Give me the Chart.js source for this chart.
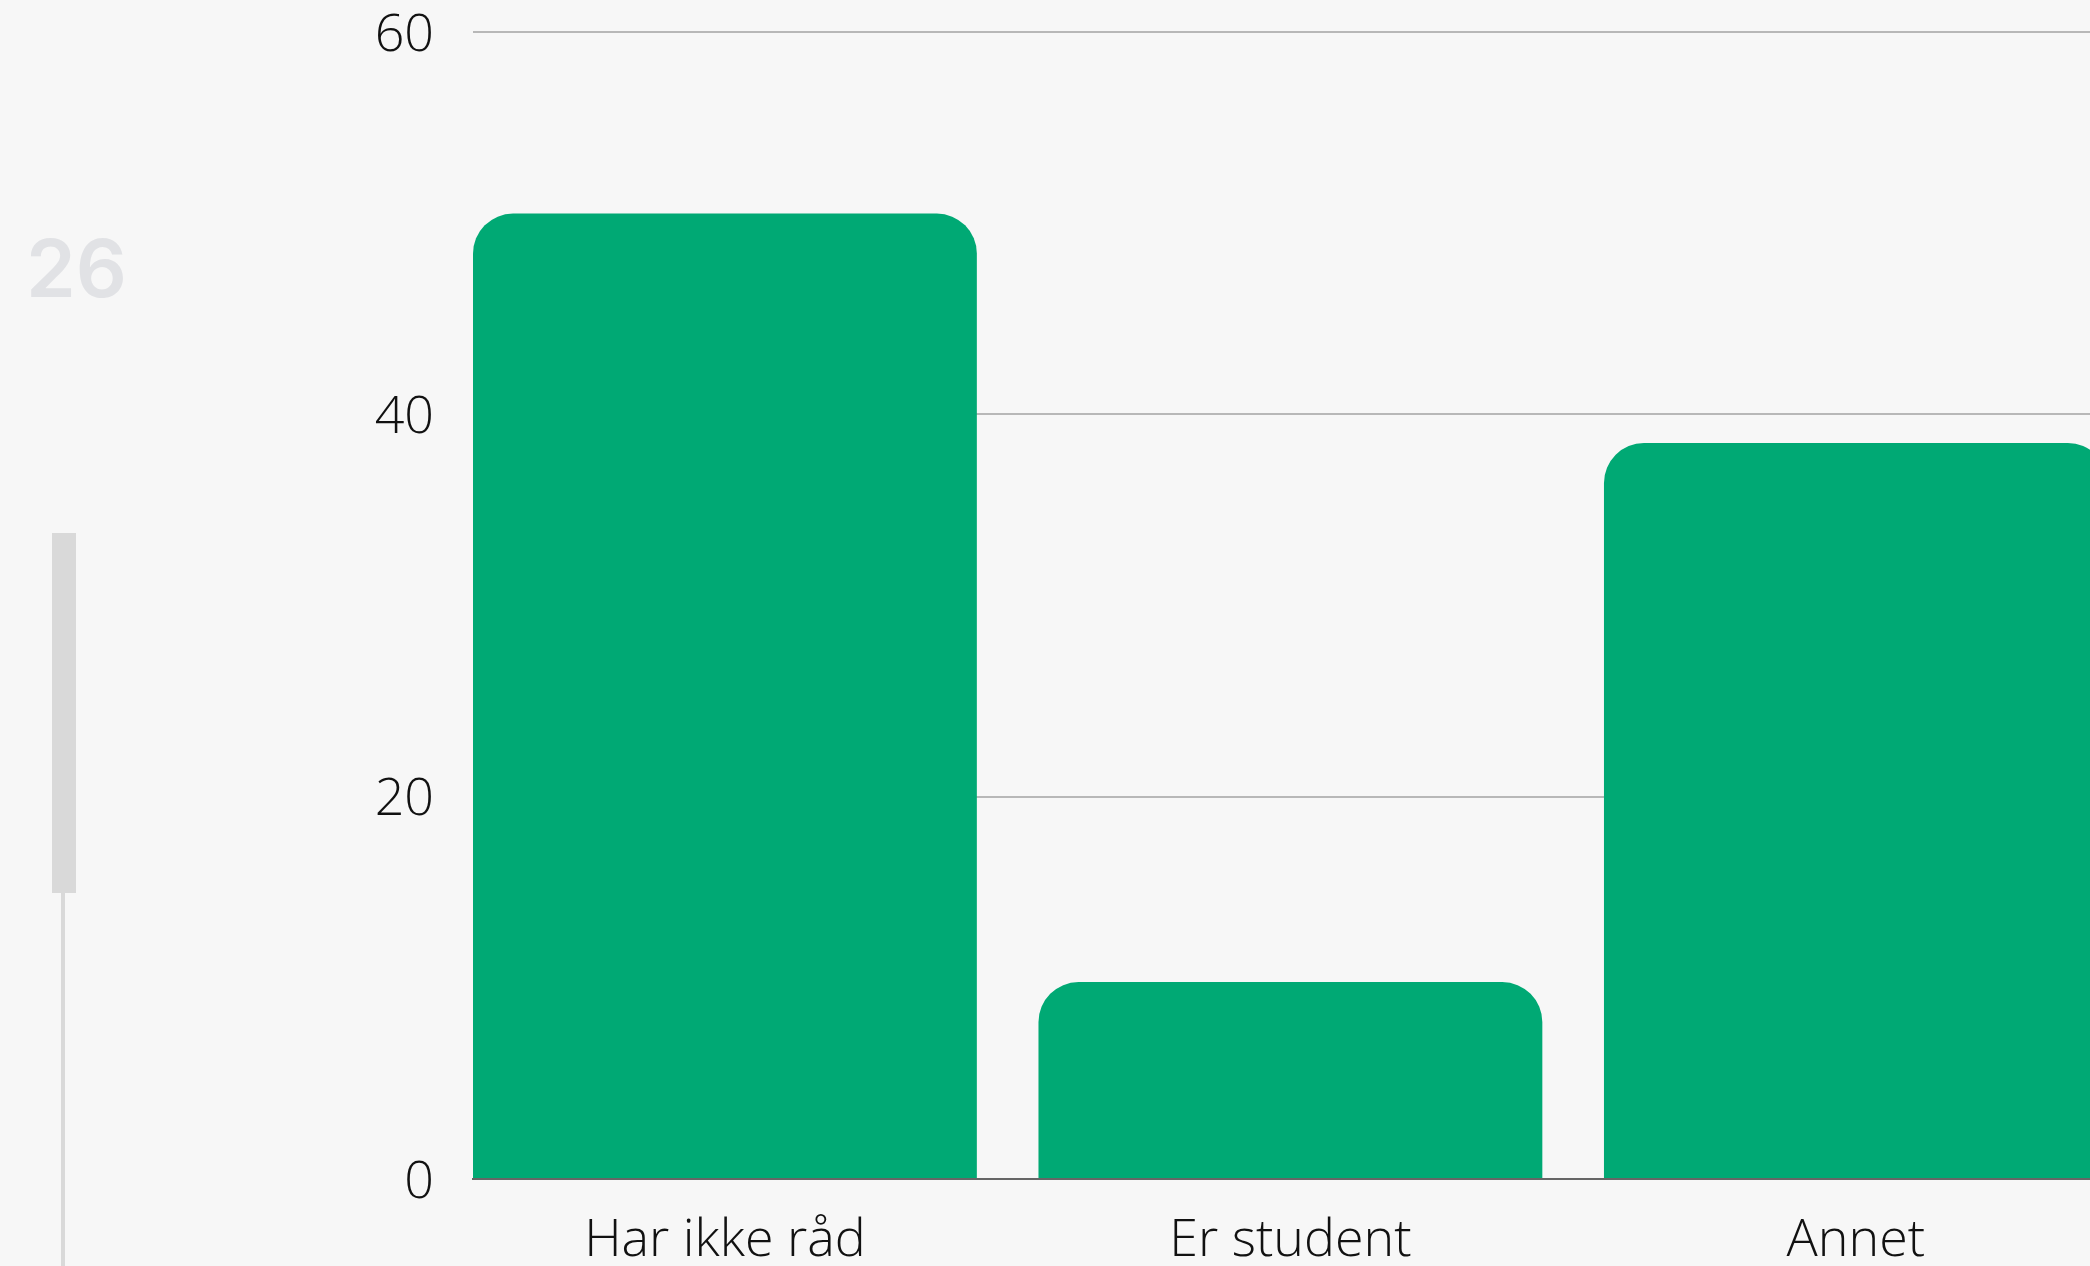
<!DOCTYPE html>
<html>
<head>
<meta charset="utf-8">
<title>Årsak</title>
<script src="https://cdn.jsdelivr.net/npm/chart.js@4"></script>
<style>
    html, body { margin: 0; padding: 0; background: #f7f7f7; overflow: hidden; }
    .wrap { position: relative; width: 2090px; height: 1266px; }
    .chart-box { position: absolute; left: 0; top: 0; width: 2090px; height: 1266px; }
    .big-num { position: absolute; left: 26px; top: 228px; font: 600 80px Inter, sans-serif; line-height: 1; color: #e1e2e5; z-index: 2; }
    .slider-thumb { position: absolute; left: 52px; top: 533px; width: 24px; height: 360px; background: #d9d9d9; z-index: 2; }
    .slider-track { position: absolute; left: 61px; top: 893px; width: 4px; height: 373px; background: #d9d9d9; z-index: 2; }
</style>
</head>
<body>
<div class="wrap">
    <div class="chart-box"><canvas class="chart-1"></canvas></div>
    <div class="big-num">26</div>
    <div class="slider-thumb"></div>
    <div class="slider-track"></div>
</div>
<script>
// kategorier og verdier (prosent)
const categories = ['Har ikke råd', 'Er student', 'Annet'];
const values = [50.5, 10.3, 38.5];
const yTicks = [0, 20, 40, 60];

const barShare = 0.891;
const labelFont = { family: '"Open Sans"', size: 52, weight: 300 };

const chart1 = document.querySelector('.chart-1');

function createChart(canvas) {
    new Chart(canvas, {
        type: 'bar',
        data: {
            datasets: [{
                // x = indeks til kategorien, y = verdien
                data: values.map((v, i) => ({ x: i, y: v })),
                backgroundColor: '#00a974',
                borderRadius: 40,
                borderSkipped: 'start',
                categoryPercentage: 1,
                barPercentage: barShare
            }]
        },
        options: {
            responsive: true,
            maintainAspectRatio: false,
            animation: false,
            layout: { padding: { top: 2, left: 0, right: 0, bottom: 0 } },
            plugins: {
                legend: { display: false },
                tooltip: { enabled: false }
            },
            scales: {
                x: {
                    type: 'linear',
                    offset: false,
                    // første søyle starter helt inntil venstre kant
                    min: -barShare / 2,
                    max: 2.414,
                    afterBuildTicks: s => { s.ticks = categories.map((c, i) => ({ value: i })); },
                    grid: { display: false, drawTicks: false, offset: false },
                    border: { display: true, color: '#666666', width: 2 },
                    ticks: {
                        callback: v => categories[v],
                        font: labelFont,
                        color: '#111111',
                        padding: 31,
                        maxRotation: 0,
                        autoSkip: false
                    },
                    afterFit: s => { s.height = 87; }
                },
                y: {
                    min: 0,
                    max: 60,
                    afterBuildTicks: s => { s.ticks = yTicks.map(v => ({ value: v })); },
                    grid: {
                        color: c => (c.tick && c.tick.value === 0) ? 'rgba(0,0,0,0)' : '#b8b8b8',
                        lineWidth: 2,
                        drawTicks: false
                    },
                    border: { display: false },
                    ticks: {
                        font: labelFont,
                        color: '#111111',
                        padding: 39,
                        labelOffset: 4
                    },
                    afterFit: s => {
                        s.width = 473;
                        s.paddingTop = 32;
                    }
                }
            }
        }
    });
}

createChart(chart1);
</script>
</body>
</html>
